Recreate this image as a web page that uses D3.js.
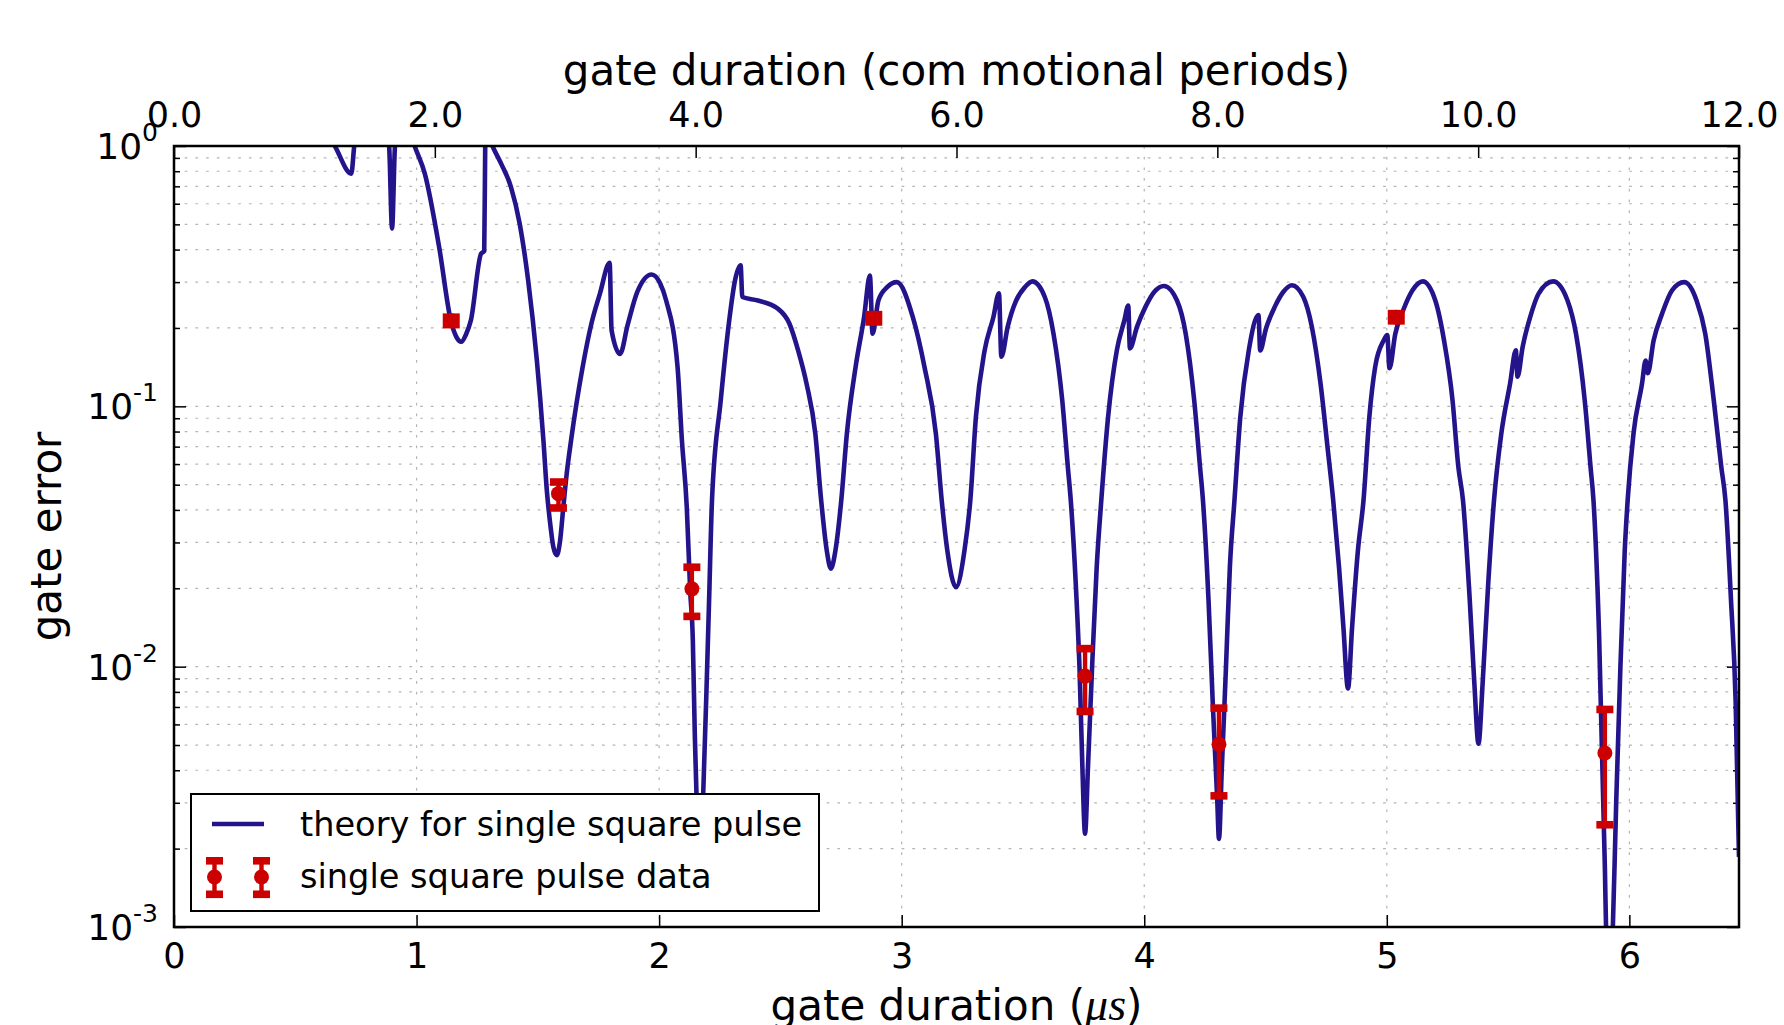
<!DOCTYPE html>
<html lang="en">
<head>
    <meta charset="UTF-8">
    <title>gate error vs gate duration</title>
    <style>
        body { margin: 0; background: #fff; }
        text { font-family: "DejaVu Sans", sans-serif; }
    </style>
</head>
<script src="https://d3js.org/d3.v7.min.js"></script>
<body>
<script>
    // theory curve (gate duration in us, gate error)
    var theoryDur = [0.600, 0.663, 0.731, 0.743, 0.760, 0.870, 0.887, 0.899, 0.911, 0.930, 0.970, 0.992,
        1.034, 1.094, 1.141, 1.165, 1.184, 1.205, 1.224, 1.266, 1.279, 1.283, 1.288, 1.300, 1.313,
        1.350, 1.389, 1.425, 1.460, 1.496, 1.523, 1.537, 1.551, 1.564, 1.578, 1.592, 1.605, 1.619, 1.637,
        1.685, 1.721, 1.756, 1.796, 1.804, 1.839, 1.870, 1.910, 1.969, 2.004, 2.029, 2.076, 2.094,
        2.114, 2.128, 2.139, 2.147, 2.154, 2.166, 2.182, 2.194, 2.206, 2.218, 2.254, 2.289, 2.313,
        2.336, 2.343, 2.407, 2.490, 2.537, 2.573, 2.608, 2.644, 2.668, 2.691, 2.708, 2.727, 2.751,
        2.774, 2.810, 2.845, 2.869, 2.880, 2.904, 2.940, 2.980, 3.046, 3.094, 3.141, 3.165, 3.188,
        3.224, 3.259, 3.283, 3.306, 3.342, 3.378, 3.401, 3.411, 3.437, 3.472, 3.508, 3.539, 3.590,
        3.626, 3.662, 3.685, 3.697, 3.721, 3.733, 3.745, 3.756, 3.768, 3.785, 3.804, 3.823, 3.851,
        3.887, 3.918, 3.934, 3.941, 3.970, 4.005, 4.041, 4.081, 4.135, 4.171, 4.206, 4.230, 4.242,
        4.265, 4.282, 4.301, 4.308, 4.320, 4.337, 4.353, 4.372, 4.396, 4.431, 4.471, 4.478, 4.502,
        4.538, 4.573, 4.609, 4.656, 4.691, 4.727, 4.757, 4.779, 4.803, 4.821, 4.840, 4.857, 4.881,
        4.904, 4.928, 4.952, 4.987, 5.002, 5.011, 5.035, 5.070, 5.106, 5.148, 5.200, 5.236, 5.271,
        5.295, 5.314, 5.342, 5.361, 5.378, 5.395, 5.418, 5.442, 5.472, 5.508, 5.532, 5.539, 5.560,
        5.591, 5.626, 5.686, 5.745, 5.780, 5.816, 5.840, 5.852, 5.875, 5.899, 5.906, 5.918, 5.929,
        5.946, 5.963, 5.981, 5.993, 6.017, 6.052, 6.067, 6.076, 6.100, 6.135, 6.176, 6.226, 6.277,
        6.313, 6.348, 6.379, 6.396, 6.419, 6.438, 6.452];
    var theoryErr = [1.25, 1.0, 0.783, 1.0, 1.3, 1.3, 1.0, 0.482, 1.0, 1.3, 1.15, 1.0,
        0.783, 0.404, 0.214, 0.184, 0.177, 0.190, 0.214, 0.386, 0.395, 1.0, 1.4, 1.07, 1.0,
        0.85, 0.697, 0.504, 0.305, 0.150, 0.074, 0.0476, 0.0354, 0.0288, 0.0268, 0.0306, 0.041, 0.0551, 0.074,
        0.142, 0.208, 0.271, 0.356, 0.196, 0.159, 0.205, 0.275, 0.321, 0.297, 0.255, 0.1416, 0.074,
        0.041, 0.0196, 0.0126, 0.00553, 0.00325, 0.0012, 0.0033, 0.00743, 0.018, 0.0436, 0.1054, 0.2138, 0.305,
        0.348, 0.263, 0.255, 0.237, 0.208, 0.164, 0.122, 0.0785, 0.0436, 0.028, 0.0238, 0.028, 0.0436,
        0.0785, 0.1416, 0.2203, 0.318, 0.190, 0.255, 0.287, 0.300, 0.220, 0.1416, 0.0785, 0.0436, 0.028,
        0.0202, 0.028, 0.0436, 0.091, 0.164, 0.220, 0.272, 0.155, 0.202, 0.255, 0.287, 0.302, 0.263,
        0.190, 0.1054, 0.0585, 0.0436, 0.018, 0.00995, 0.00411, 0.00228, 0.00411, 0.00995, 0.0241, 0.0436, 0.091,
        0.164, 0.2138, 0.244, 0.167, 0.202, 0.241, 0.275, 0.290, 0.255, 0.190, 0.1054, 0.0585, 0.0436,
        0.018, 0.00743, 0.00307, 0.00218, 0.00411, 0.00995, 0.0241, 0.0436, 0.091, 0.164, 0.224, 0.164, 0.199,
        0.241, 0.275, 0.292, 0.263, 0.202, 0.122, 0.0678, 0.0436, 0.0241, 0.0142, 0.00824, 0.0142, 0.028,
        0.0436, 0.091, 0.1416, 0.179, 0.188, 0.140, 0.190, 0.237, 0.279, 0.302, 0.255, 0.179, 0.1054,
        0.0585, 0.0436, 0.018, 0.0086, 0.00506, 0.0086, 0.0208, 0.0436, 0.0785, 0.122, 0.164, 0.130, 0.169,
        0.220, 0.271, 0.302, 0.255, 0.190, 0.1054, 0.0585, 0.0436, 0.0134, 0.0017, 0.0008, 0.0005, 0.0008,
        0.00307, 0.00995, 0.028, 0.0436, 0.0785, 0.122, 0.150, 0.134, 0.179, 0.227, 0.279, 0.300, 0.255,
        0.190, 0.1054, 0.0585, 0.0436, 0.018, 0.00743, 0.00186];

    // measured points with error bars
    var dataDur = [1.143, 1.585, 2.135, 2.885, 3.756, 4.308, 5.039, 5.899];
    var dataErr = [0.213, 0.0462, 0.0199, 0.218, 0.0092, 0.00503, 0.220, 0.00466];
    var dataLow = [0.206, 0.0407, 0.0156, 0.211, 0.00673, 0.00319, 0.213, 0.00247];
    var dataHigh = [0.220, 0.0512, 0.0241, 0.225, 0.01173, 0.00693, 0.227, 0.00685];

    var bottomTicks = [0, 1, 2, 3, 4, 5, 6];
    var topTicks = [0, 2, 4, 6, 8, 10, 12];
    var yMajor = [1e-3, 1e-2, 1e-1, 1];
    var yExp = ["-3", "-2", "-1", "0"];

    var durMax = 6.452, periodsMax = 12;
    var lineColor = "#24148c", dataColor = "#cc0000";

    var margin = {top: 146, left: 174},
        width = 1565,
        height = 781;

    var svg = d3.select("body")
        .append("svg")
        .attr("width", 1784)
        .attr("height", 1025);

    var g = svg.append("g")
        .attr("transform", "translate(" + margin.left + "," + margin.top + ")");

    var x = d3.scaleLinear().domain([0, durMax]).range([0, width]),
        xTop = d3.scaleLinear().domain([0, periodsMax]).range([0, width]),
        y = d3.scaleLog().domain([1e-3, 1]).range([height, 0]);

    var yMinor = [];
    yMajor.slice(0, 3).forEach(function (d) {
        for (var k = 2; k <= 9; k++) yMinor.push(d * k);
    });

    // grid
    g.selectAll(".hgrid")
        .data(yMajor.concat(yMinor))
        .enter().append("line")
        .attr("x1", 0).attr("x2", width)
        .attr("y1", function (d) { return y(d); })
        .attr("y2", function (d) { return y(d); })
        .attr("stroke", "#b4b4b4")
        .attr("stroke-width", 1.2)
        .attr("stroke-dasharray", "2.7,8");
    g.selectAll(".vgrid")
        .data(bottomTicks.slice(1))
        .enter().append("line")
        .attr("y1", 0).attr("y2", height)
        .attr("x1", function (d) { return x(d); })
        .attr("x2", function (d) { return x(d); })
        .attr("stroke", "#b4b4b4")
        .attr("stroke-width", 1.2)
        .attr("stroke-dasharray", "2.7,8");

    // ticks (inward)
    function styleAxis(sel) {
        sel.select(".domain").remove();
        sel.selectAll(".tick line").attr("stroke", "#000").attr("stroke-width", 1.5);
        sel.attr("font-family", "DejaVu Sans").attr("font-size", 35);
        sel.selectAll(".tick text").attr("fill", "#000");
    }

    g.append("g")
        .attr("transform", "translate(0," + height + ")")
        .call(d3.axisBottom(x).tickValues(bottomTicks).tickSize(-12).tickSizeOuter(0).tickPadding(16)
            .tickFormat(d3.format("d")))
        .call(styleAxis);

    g.append("g")
        .call(d3.axisTop(xTop).tickValues(topTicks).tickSize(-12).tickSizeOuter(0).tickPadding(19)
            .tickFormat(d3.format(".1f")))
        .call(styleAxis);

    g.append("g")
        .call(d3.axisLeft(y).tickValues(yMajor).tickSize(-12).tickSizeOuter(0).tickFormat(""))
        .call(styleAxis);
    g.append("g")
        .call(d3.axisLeft(y).tickValues(yMinor).tickSize(-6).tickSizeOuter(0).tickFormat(""))
        .call(styleAxis);
    g.append("g")
        .attr("transform", "translate(" + width + ",0)")
        .call(d3.axisRight(y).tickValues(yMajor).tickSize(-12).tickSizeOuter(0).tickFormat(""))
        .call(styleAxis);
    g.append("g")
        .attr("transform", "translate(" + width + ",0)")
        .call(d3.axisRight(y).tickValues(yMinor).tickSize(-6).tickSizeOuter(0).tickFormat(""))
        .call(styleAxis);

    // y tick labels 10^n
    var ylab = g.selectAll(".ylab")
        .data(yMajor)
        .enter().append("text")
        .attr("class", "ylab")
        .attr("text-anchor", "end")
        .attr("x", -16)
        .attr("y", function (d) { return y(d) + 13; })
        .attr("font-size", 36);
    ylab.append("tspan").text("10");
    ylab.append("tspan")
        .attr("font-size", 25)
        .attr("dy", -18)
        .text(function (d, i) { return yExp[i]; });

    // theory curve
    svg.append("defs").append("clipPath")
        .attr("id", "plotclip")
        .append("rect")
        .attr("width", width).attr("height", height);

    var curvePts = theoryDur.map(function (d, i) { return [d, theoryErr[i]]; });
    g.append("path")
        .datum(curvePts)
        .attr("clip-path", "url(#plotclip)")
        .attr("fill", "none")
        .attr("stroke", lineColor)
        .attr("stroke-width", 4.6)
        .attr("stroke-linejoin", "round")
        .attr("d", d3.line()
            .x(function (d) { return x(d[0]); })
            .y(function (d) { return y(d[1]); })
            .curve(d3.curveMonotoneX));

    // data with error bars
    var pts = g.selectAll(".pt")
        .data(dataDur)
        .enter().append("g")
        .attr("class", "pt")
        .attr("fill", dataColor);
    pts.append("line")
        .attr("x1", function (d) { return x(d); })
        .attr("x2", function (d) { return x(d); })
        .attr("y1", function (d, i) { return y(dataLow[i]); })
        .attr("y2", function (d, i) { return y(dataHigh[i]); })
        .attr("stroke", dataColor)
        .attr("stroke-width", 4.4);
    pts.append("rect")
        .attr("x", function (d) { return x(d) - 8.5; })
        .attr("y", function (d, i) { return y(dataHigh[i]) - 3.8; })
        .attr("width", 17).attr("height", 7.6);
    pts.append("rect")
        .attr("x", function (d) { return x(d) - 8.5; })
        .attr("y", function (d, i) { return y(dataLow[i]) - 3.8; })
        .attr("width", 17).attr("height", 7.6);
    pts.append("circle")
        .attr("cx", function (d) { return x(d); })
        .attr("cy", function (d, i) { return y(dataErr[i]); })
        .attr("r", 7.5);

    // frame
    g.append("rect")
        .attr("width", width).attr("height", height)
        .attr("fill", "none")
        .attr("stroke", "#000")
        .attr("stroke-width", 2.5);

    // axis titles
    svg.append("text")
        .attr("x", margin.left + width / 2)
        .attr("y", 85)
        .attr("text-anchor", "middle")
        .attr("font-size", 42)
        .text("gate duration (com motional periods)");

    var xt = svg.append("text")
        .attr("x", margin.left + width / 2)
        .attr("y", 1020)
        .attr("text-anchor", "middle")
        .attr("font-size", 42);
    xt.append("tspan").text("gate duration (");
    xt.append("tspan")
        .style("font-family", "'Liberation Serif', serif")
        .attr("font-style", "italic")
        .attr("font-size", 46)
        .text("\u03bcs");
    xt.append("tspan").text(")");

    svg.append("text")
        .attr("transform", "translate(61," + (margin.top + height / 2) + ") rotate(-90)")
        .attr("text-anchor", "middle")
        .attr("font-size", 42)
        .text("gate error");

    // legend
    var leg = g.append("g")
        .attr("transform", "translate(" + (191 - margin.left) + "," + (794 - margin.top) + ")");
    leg.append("rect")
        .attr("width", 628).attr("height", 117)
        .attr("fill", "#fff")
        .attr("stroke", "#000")
        .attr("stroke-width", 2);
    leg.append("line")
        .attr("x1", 21).attr("x2", 73)
        .attr("y1", 30).attr("y2", 30)
        .attr("stroke", lineColor)
        .attr("stroke-width", 4.6);
    leg.append("text")
        .attr("x", 109).attr("y", 42)
        .attr("font-size", 33.6)
        .text("theory for single square pulse");
    [23.5, 70.5].forEach(function (cx) {
        var m = leg.append("g").attr("fill", dataColor);
        m.append("line")
            .attr("x1", cx).attr("x2", cx)
            .attr("y1", 67).attr("y2", 100)
            .attr("stroke", dataColor).attr("stroke-width", 4.4);
        m.append("rect").attr("x", cx - 8.5).attr("y", 63).attr("width", 17).attr("height", 7.6);
        m.append("rect").attr("x", cx - 8.5).attr("y", 96.5).attr("width", 17).attr("height", 7.6);
        m.append("circle").attr("cx", cx).attr("cy", 83).attr("r", 7.5);
    });
    leg.append("text")
        .attr("x", 109).attr("y", 94)
        .attr("font-size", 33.6)
        .text("single square pulse data");
</script>
</body>
</html>
